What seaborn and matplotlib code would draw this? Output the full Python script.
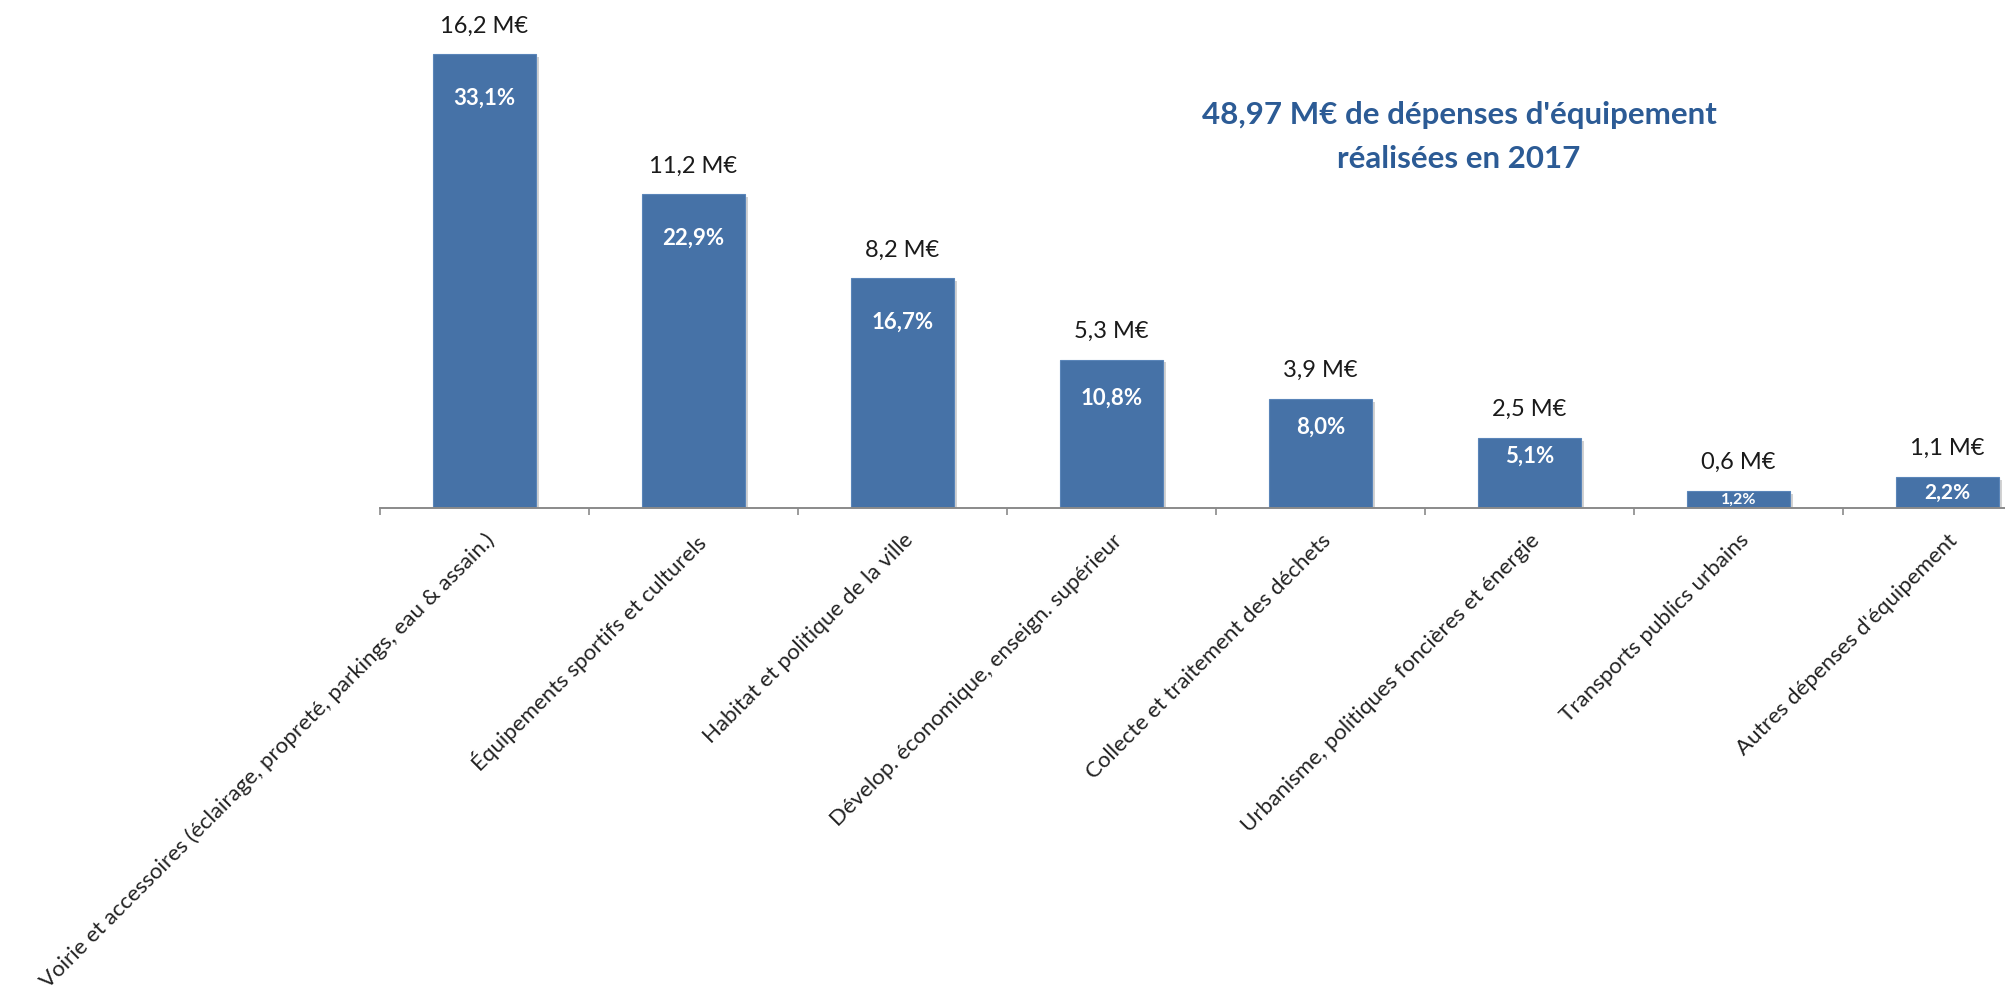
import matplotlib
matplotlib.use("Agg")
import matplotlib.pyplot as plt
import matplotlib.patheffects as pe
from matplotlib.ticker import FixedLocator
import seaborn as sns
import pandas as pd

# Dépenses d'équipement réalisées par grand poste
categories = [
    "Voirie et accessoires (éclairage, propreté, parkings, eau & assain.)",
    "Équipements sportifs et culturels",
    "Habitat et politique de la ville",
    "Dévelop. économique, enseign. supérieur",
    "Collecte et traitement des déchets",
    "Urbanisme, politiques foncières et énergie",
    "Transports publics urbains",
    "Autres dépenses d'équipement",
]
montants = [16.2, 11.2, 8.2, 5.3, 3.9, 2.5, 0.6, 1.1]        # M€
parts = [33.1, 22.9, 16.7, 10.8, 8.0, 5.1, 1.2, 2.2]         # % du total
total_label = "48,97"
annee = "2017"

BLUE = "#4672A7"
TITLE_BLUE = "#2C5B95"
AXIS_GREY = "#8a8a8a"


def fr(v, nd=1):
    return f"{v:.{nd}f}".replace(".", ",")


sns.set_theme(style="white")
plt.rcParams["font.family"] = ["Lato", "DejaVu Sans"]

W, H, DPI = 2006, 1000, 100
fig = plt.figure(figsize=(W / DPI, H / DPI), dpi=DPI)
base_px = 508
ax = fig.add_axes([380 / W, (H - base_px) / H, 1672 / W, base_px / H])

df = pd.DataFrame({"poste": categories, "montant": montants})
sns.barplot(data=df, x="poste", y="montant", color=BLUE, saturation=1,
            width=0.49, ax=ax, edgecolor="#5a85b9", linewidth=0.8)

px_per_unit = 28.0
ax.set_ylim(0, base_px / px_per_unit)
ax.set_xlim(-0.5, len(categories) - 0.5)

for bar in ax.patches:
    bar.set_path_effects([
        pe.SimplePatchShadow(offset=(2.5, -2.0), shadow_rgbFace="#808080", alpha=0.35),
        pe.Normal(),
    ])

# Montants au-dessus des barres
ax.bar_label(ax.containers[0], labels=[f"{fr(v)} M€" for v in montants],
             padding=13, fontsize=17, color="#1a1a1a")

# Parts en pourcentage dans les barres
for bar, p in zip(ax.patches, parts):
    h_px = bar.get_height() * px_per_unit
    xc = bar.get_x() + bar.get_width() / 2
    if h_px < 40:
        off_px = h_px / 2
        fs = 11.5 if h_px < 25 else 15
    else:
        off_px = min(44, 0.26 * h_px)
        fs = 16
    ax.annotate(f"{fr(p)}%", xy=(xc, bar.get_height()),
                xytext=(0, -off_px * 72 / DPI), textcoords="offset points",
                ha="center", va="center", fontsize=fs, fontweight="bold",
                color="white")

# Axe des catégories
ax.set_xticks(range(len(categories)))
ax.set_xticklabels(categories, rotation=45, ha="right", va="top",
                   rotation_mode="anchor", fontsize=16, color="#222222")
ax.xaxis.set_minor_locator(FixedLocator([i - 0.5 for i in range(len(categories) + 1)]))
ax.tick_params(axis="x", which="major", bottom=False, length=0, pad=16)
ax.tick_params(axis="x", which="minor", bottom=True, length=5, width=1.2,
               color=AXIS_GREY, direction="out")
ax.set_yticks([])
ax.set_xlabel("")
ax.set_ylabel("")
for side in ("left", "top", "right"):
    ax.spines[side].set_visible(False)
ax.spines["bottom"].set_color(AXIS_GREY)
ax.spines["bottom"].set_linewidth(1.4)

# Titre
fig.text(1459 / W, 1 - 115 / H, f"{total_label} M€ de dépenses d'équipement",
         ha="center", va="center", fontsize=22.5, fontweight="bold", color=TITLE_BLUE)
fig.text(1459 / W, 1 - 159 / H, f"réalisées en {annee}",
         ha="center", va="center", fontsize=22.5, fontweight="bold", color=TITLE_BLUE)

fig.savefig("out.png", dpi=DPI, facecolor="white")
